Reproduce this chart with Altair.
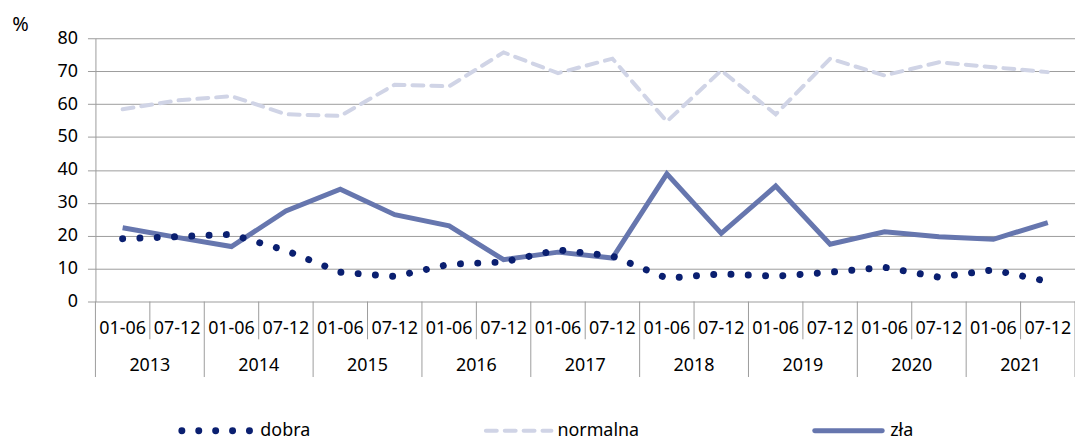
import altair as alt
import pandas as pd

# ---- data ----
years = ["2013", "2014", "2015", "2016", "2017", "2018", "2019", "2020", "2021"]
halves = ["01-06", "07-12"]
dobra = [19.1, 19.7, 20.4, 15.5, 8.9, 7.6, 11.3, 12.0, 15.7, 13.8, 7.1, 8.4, 7.7, 8.9, 10.4, 7.4, 9.6, 6.1]
normalna = [58.4, 61.1, 62.4, 56.9, 56.4, 65.9, 65.4, 75.7, 69.4, 73.8, 54.7, 70.2, 56.9, 73.8, 68.7, 72.7, 71.2, 69.7]
zla = [22.4, 19.5, 16.7, 27.5, 34.1, 26.4, 23.0, 12.7, 15.0, 13.2, 38.8, 20.7, 35.1, 17.4, 21.2, 19.7, 18.9, 24.0]
y_ticks = [0, 10, 20, 30, 40, 50, 60, 70, 80]

# ---- tables ----
rows = []
n = len(years) * len(halves)
for i in range(n):
    rows.append({"pos": i + 0.5, "half": halves[i % 2], "year": years[i // 2],
                 "dobra": dobra[i], "normalna": normalna[i], "zla": zla[i]})
df = pd.DataFrame(rows)
year_df = pd.DataFrame({"pos": [2 * k + 1 for k in range(len(years))], "year": years})
bounds = pd.DataFrame({"b": list(range(n + 1))})
bounds["kind"] = ["year" if b % 2 == 0 else "half" for b in bounds["b"]]

W, H = 986, 265
FONT = "Noto Sans"
GRID = "#9c9c9c"

xs = alt.Scale(domain=[0, n], nice=False, zero=False)
ys = alt.Scale(domain=[0, 80], nice=False)

base = alt.Chart(df)

yaxis = alt.Axis(values=y_ticks, grid=True, gridColor=GRID, domainColor=GRID,
                 tickColor=GRID, tickSize=8, labelFontSize=18, labelPadding=10,
                 labelColor="black", labelFont=FONT, labelOverlap=False, title="%", titleAngle=0,
                 titleX=-76, titleY=-14, titleAlign="center", titleBaseline="middle",
                 titleFontSize=20, titleFontWeight="normal", titleFont=FONT, titleColor="black")

line_norm = base.mark_line(color="#d0d4e6", strokeWidth=4, strokeDash=[11, 8], strokeCap="round").encode(
    x=alt.X("pos:Q", scale=xs, axis=None),
    y=alt.Y("normalna:Q", scale=ys, axis=yaxis),
)
line_zla = base.mark_line(color="#6676ae", strokeWidth=5).encode(
    x=alt.X("pos:Q", scale=xs, axis=None),
    y=alt.Y("zla:Q", scale=ys, axis=yaxis),
)
line_dobra = base.mark_line(color="#0a1f70", strokeWidth=7, strokeDash=[0.01, 17.4], strokeCap="round").encode(
    x=alt.X("pos:Q", scale=xs, axis=None),
    y=alt.Y("dobra:Q", scale=ys, axis=yaxis),
)

bchart = alt.Chart(bounds)
rules_year = bchart.transform_filter(alt.datum.kind == "year").mark_rule(color=GRID, strokeWidth=1).encode(
    x=alt.X("b:Q", scale=xs, axis=None), y=alt.value(H), y2=alt.value(H + 76))
rules_half = bchart.transform_filter(alt.datum.kind == "half").mark_rule(color=GRID, strokeWidth=1).encode(
    x=alt.X("b:Q", scale=xs, axis=None), y=alt.value(H), y2=alt.value(H + 38))

half_text = base.mark_text(fontSize=18, font=FONT, color="black", baseline="middle", align="center").encode(
    x=alt.X("pos:Q", scale=xs, axis=None), y=alt.value(H + 28), text="half:N")
year_text = alt.Chart(year_df).mark_text(fontSize=18, font=FONT, color="black", baseline="middle", align="center").encode(
    x=alt.X("pos:Q", scale=xs, axis=None), y=alt.value(H + 65), text="year:N")

LY = H + 130
leg_df = pd.DataFrame({"label": ["dobra", "normalna", "zła"]})
lc = alt.Chart(leg_df)
leg_dobra = lc.transform_filter(alt.datum.label == "dobra").mark_rule(
    color="#0a1f70", strokeWidth=7, strokeDash=[0.01, 17], strokeCap="round").encode(
    x=alt.value(87), x2=alt.value(156), y=alt.value(LY))
leg_norm = lc.transform_filter(alt.datum.label == "normalna").mark_rule(
    color="#d0d4e6", strokeWidth=4, strokeDash=[11, 8], strokeCap="round").encode(
    x=alt.value(393), x2=alt.value(459), y=alt.value(LY))
leg_zla = lc.transform_filter(alt.datum.label == "zła").mark_rule(
    color="#6676ae", strokeWidth=5, strokeCap="round").encode(
    x=alt.value(724), x2=alt.value(792), y=alt.value(LY))
t1 = lc.transform_filter(alt.datum.label == "dobra").mark_text(
    fontSize=18, font=FONT, align="left", baseline="middle", color="black").encode(
    x=alt.value(166), y=alt.value(LY), text="label:N")
t2 = lc.transform_filter(alt.datum.label == "normalna").mark_text(
    fontSize=18, font=FONT, align="left", baseline="middle", color="black").encode(
    x=alt.value(465), y=alt.value(LY), text="label:N")
t3 = lc.transform_filter(alt.datum.label == "zła").mark_text(
    fontSize=18, font=FONT, align="left", baseline="middle", color="black").encode(
    x=alt.value(800), y=alt.value(LY), text="label:N")

chart = alt.layer(
    line_norm, rules_year, rules_half, half_text, year_text,
    line_zla, line_dobra,
    leg_dobra, leg_norm, leg_zla, t1, t2, t3,
).properties(
    width=W, height=H, autosize="none",
    padding={"left": 88, "top": 29, "right": 0, "bottom": 146},
    background="white",
).configure_view(stroke=None)

chart.save("out.html", embed_options={"renderer": "svg", "actions": False})
